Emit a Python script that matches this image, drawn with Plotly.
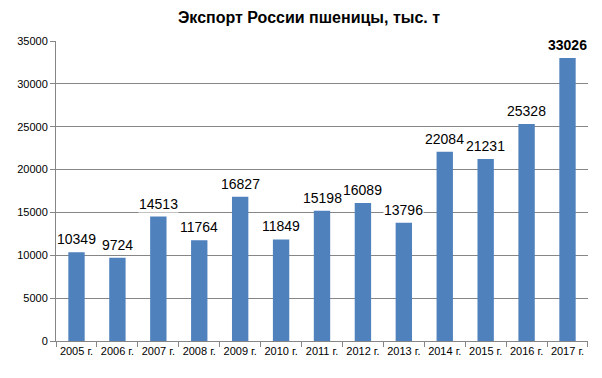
import plotly.graph_objects as go

years = ["2005 г.", "2006 г.", "2007 г.", "2008 г.", "2009 г.", "2010 г.", "2011 г.",
         "2012 г.", "2013 г.", "2014 г.", "2015 г.", "2016 г.", "2017 г."]
export = [10349, 9724, 14513, 11764, 16827, 11849, 15198, 16089, 13796, 22084, 21231, 25328, 33026]
y_ticks = [0, 5000, 10000, 15000, 20000, 25000, 30000, 35000]

FONT = "Liberation Sans, Arial, sans-serif"

fig = go.Figure(go.Bar(
    x=years, y=export,
    marker=dict(color="#4F81BD", line=dict(width=0)),
    width=0.4,
))

annotations = []
for i, (yr, v) in enumerate(zip(years, export)):
    last = i == len(export) - 1
    annotations.append(dict(
        x=yr, y=v, xref="x", yref="y",
        text=f"<b>{v}</b>" if last else str(v),
        showarrow=False, yanchor="bottom", yshift=4,
        font=dict(family=FONT, size=14, color="#000000"),
        bgcolor="white", borderpad=0,
    ))

fig.update_layout(
    width=602, height=378,
    margin=dict(l=48, r=22, t=33, b=45, autoexpand=False),
    paper_bgcolor="white", plot_bgcolor="white",
    title=dict(text="<b>Экспорт России пшеницы, тыс. т</b>", x=0.5, xanchor="center",
               y=0.975, yanchor="middle",
               font=dict(family=FONT, size=16, color="#000000")),
    showlegend=False,
    annotations=annotations,
    xaxis=dict(
        showline=True, linecolor="#868686", linewidth=1,
        ticks="outside", tickson="boundaries", ticklen=5, tickcolor="#868686",
        tickangle=0, automargin=False,
        tickfont=dict(family=FONT, size=11, color="#000000"),
        showgrid=False,
    ),
    yaxis=dict(
        range=[0, 35000], tickvals=y_ticks, tickformat="d", automargin=False,
        showline=True, linecolor="#868686", linewidth=1,
        ticks="outside", ticklen=5, tickcolor="#868686",
        tickfont=dict(family=FONT, size=11, color="#000000"),
        showgrid=True, gridcolor="#868686", gridwidth=1,
        zeroline=False,
    ),
)

fig.write_html("out.html")
